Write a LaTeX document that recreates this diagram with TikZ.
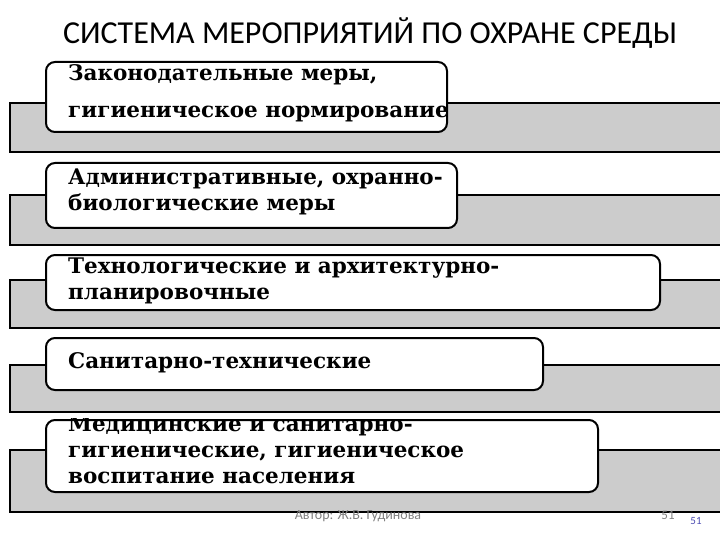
\documentclass[tikz,border=0pt]{standalone}
\usepackage{fontspec}
\setmainfont{DejaVu Serif}
\newfontfamily\titlefont{Carlito}
\begin{document}
\begin{tikzpicture}[x=1pt,y=-1pt,
  bar/.style={draw=black,line width=2pt,fill=gray!40},
  box/.style={draw=black,line width=2pt,fill=white,rounded corners=9pt},
  lbl/.style={anchor=north west,align=left,font=\bfseries\fontsize{21.5}{26}\selectfont,inner sep=0pt}]
\useasboundingbox (0,0) rectangle (720,540);
\node[font=\titlefont\fontsize{32}{34}\selectfont] (title) at (370,33) {СИСТЕМА МЕРОПРИЯТИЙ ПО ОХРАНЕ СРЕДЫ};
\draw[bar] (10,103) rectangle (722,152);
\draw[box] (46,62) rectangle (447,132);
\node[lbl,font=\bfseries\fontsize{21.5}{37}\selectfont] (t1) at (68,64) {Законодательные меры,\\гигиеническое нормирование};
\draw[bar] (10,195) rectangle (722,245);
\draw[box] (46,163) rectangle (457,228);
\node[lbl] (t2) at (68,169) {Административные, охранно-\\биологические меры};
\draw[bar] (10,280) rectangle (722,328);
\draw[box] (46,255) rectangle (660,310);
\node[lbl] (t3) at (68,258) {Технологические и архитектурно-\\планировочные};
\draw[bar] (10,365) rectangle (722,412);
\draw[box] (46,338) rectangle (543,390);
\node[lbl] (t4) at (68,352) {Санитарно-технические};
\draw[bar] (10,450) rectangle (722,512);
\draw[box] (46,420) rectangle (598,492);
\begin{scope}
\clip (40,418) rectangle (600,491);
\node[lbl] (t5) at (68,416) {Медицинские и санитарно-\\гигиенические, гигиеническое\\воспитание населения};
\end{scope}
\node[font=\titlefont\fontsize{14}{15}\selectfont,text=gray] (auth) at (358,516) {Автор: Ж.В. Гудинова};
\node[font=\titlefont\fontsize{13}{14}\selectfont,text=gray] (p1) at (668,515) {51};
\node[font=\titlefont\fontsize{11}{12}\selectfont,text=blue!40!gray] (p2) at (696,521) {51};
\end{tikzpicture}
\end{document}
